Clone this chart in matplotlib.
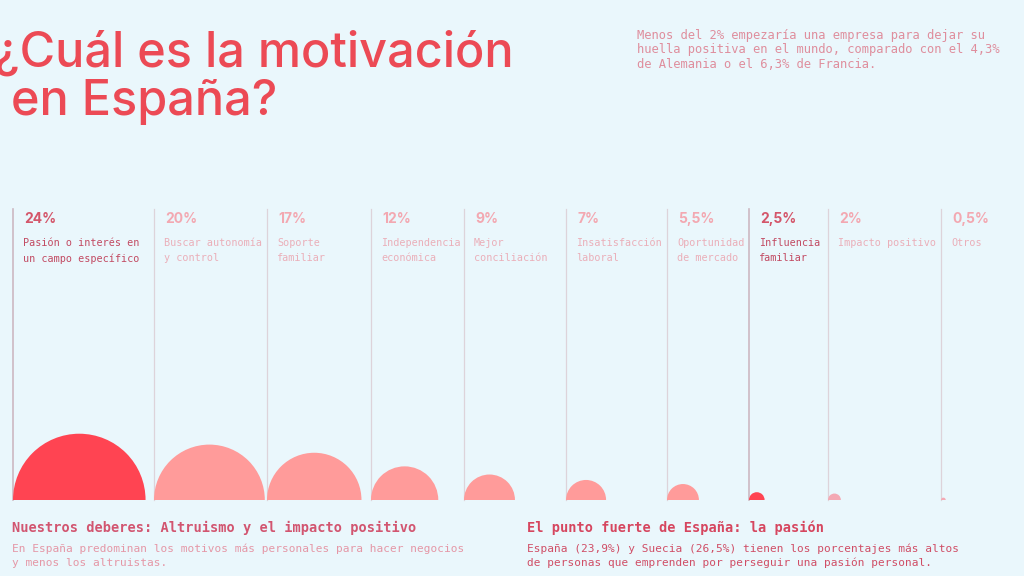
import matplotlib.pyplot as plt
from matplotlib.patches import Wedge

# datos
valores = [24, 20, 17, 12, 9, 7, 5.5, 2.5, 2, 0.5]
etiquetas_pct = ['24%', '20%', '17%', '12%', '9%', '7%', '5,5%', '2,5%', '2%', '0,5%']
categorias = [
    'Pasión o interés en\nun campo específico',
    'Buscar autonomía\ny control',
    'Soporte\nfamiliar',
    'Independencia\neconómica',
    'Mejor\nconciliación',
    'Insatisfacción\nlaboral',
    'Oportunidad\nde mercado',
    'Influencia\nfamiliar',
    'Impacto positivo',
    'Otros',
]
destacados = [0, 7]

# posiciones de las columnas (px)
col_x = [13, 154, 267, 371, 464, 566, 667, 749, 828, 941]

fondo = '#EAF7FC'
rojo_titulo = '#EC4A55'
mono = ['DejaVu Sans Mono']

fig = plt.figure(figsize=(10.24, 5.76), dpi=100)
fig.patch.set_facecolor(fondo)
ax = fig.add_axes([0, 0, 1, 1])
ax.set_facecolor(fondo)
ax.set_xlim(0, 1024)
ax.set_ylim(576, 0)
ax.axis('off')

base = 500
k = 2.72  # px de radio por punto porcentual

for i, (v, pct, cat, x) in enumerate(zip(valores, etiquetas_pct, categorias, col_x)):
    dest = i in destacados
    ax.plot([x, x], [209, base], color='#CDB8C2' if dest else '#DDD3DA',
            lw=1.2 if dest else 0.9, zorder=1)
    r = max(v * k + 1, 2.2)
    if dest:
        color_c = '#FF4452'
    elif v < 3:
        color_c = '#F4A9B4'
    else:
        color_c = '#FF9B9A'
    ax.add_patch(Wedge((x + r, base), r, 180, 360, facecolor=color_c,
                       edgecolor='none', zorder=2))
    ax.text(x + 11, 219, pct, fontsize=10, fontweight='bold', family='Inter',
            color='#D4566A' if dest else '#F3A8B1', va='center', ha='left')
    ax.text(x + 10, 238.5, cat, fontsize=7.3, family=mono, linespacing=1.6,
            color='#C24A62' if dest else '#EBAFB9', va='top', ha='left')

# título
ax.text(-6, 67, '¿Cuál es la motivación', fontsize=35, family='Inter',
        fontweight='medium', color=rojo_titulo, va='baseline', ha='left')
ax.text(11, 115, 'en España?', fontsize=35, family='Inter',
        fontweight='medium', color=rojo_titulo, va='baseline', ha='left')

ax.text(637, 28.5, 'Menos del 2% empezaría una empresa para dejar su\n'
        'huella positiva en el mundo, comparado con el 4,3%\n'
        'de Alemania o el 6,3% de Francia.',
        fontsize=8.7, family=mono, color='#DF8E9D', va='top', ha='left',
        linespacing=1.2)

# textos inferiores
ax.text(12, 528, 'Nuestros deberes: Altruismo y el impacto positivo',
        fontsize=9.8, family=mono, fontweight='bold', color='#D25570',
        va='center', ha='left')
ax.text(12, 543.5, 'En España predominan los motivos más personales para hacer negocios\n'
        'y menos los altruistas.', fontsize=8.0, family=mono,
        color='#E597A6', va='top', ha='left', linespacing=1.45)

ax.text(527, 528, 'El punto fuerte de España: la pasión',
        fontsize=9.8, family=mono, fontweight='bold', color='#D6465F',
        va='center', ha='left')
ax.text(527, 543.5, 'España (23,9%) y Suecia (26,5%) tienen los porcentajes más altos\n'
        'de personas que emprenden por perseguir una pasión personal.',
        fontsize=8.0, family=mono, color='#D04E66', va='top', ha='left',
        linespacing=1.45)

fig.savefig('out.png', dpi=100, facecolor=fondo)
